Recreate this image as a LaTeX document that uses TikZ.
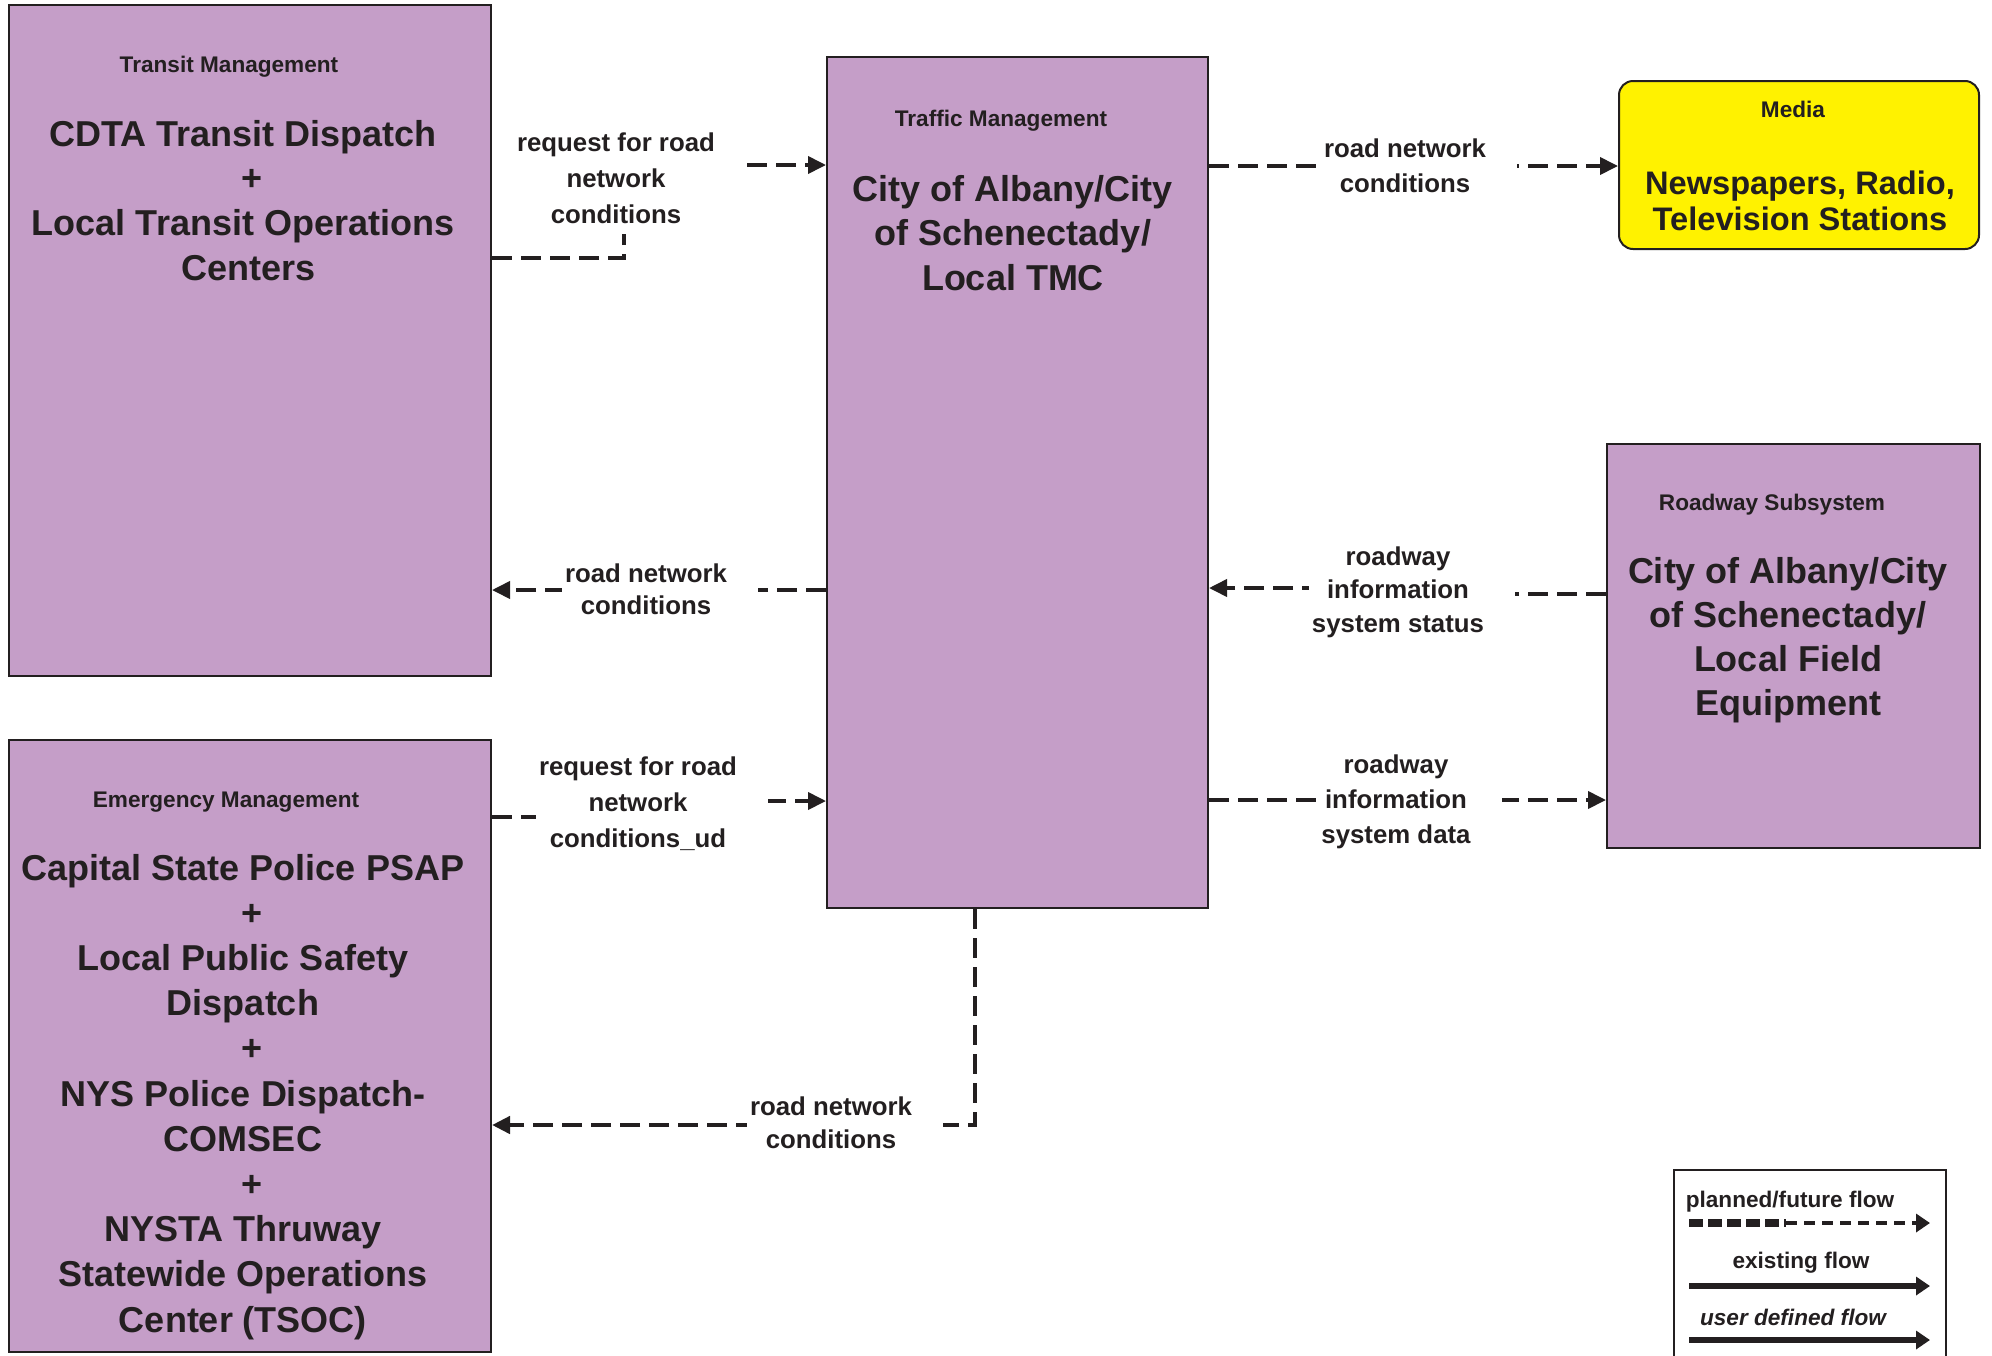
\documentclass[tikz,border=0pt]{standalone}
\usepackage{fontspec}
\setmainfont{Liberation Sans}
\usetikzlibrary{arrows.meta}
\definecolor{boxpurple}{RGB}{197,158,200}
\definecolor{medyellow}{RGB}{255,242,0}
\definecolor{ink}{RGB}{35,31,32}
\newcommand\mylines[1]{\begin{tabular}[t]{@{}c@{}}#1\end{tabular}}
\newcommand\myplus{\hspace{9pt}+}
\begin{document}
\begin{tikzpicture}[x=0.5pt,y=-0.5pt,
  box/.style={draw=ink,line width=1pt,fill=boxpurple,inner sep=0pt},
  ttl/.style={text=ink,font=\bfseries\fontsize{11.3}{13.5}\selectfont,inner sep=0pt,anchor=base},
  big/.style={text=ink,font=\bfseries\fontsize{18}{22.4}\selectfont,inner sep=0pt,anchor=base},
  lbl/.style={text=ink,font=\bfseries\fontsize{12.9}{17.5}\selectfont,inner xsep=1.5pt,inner ysep=0pt,anchor=base,fill=white,preaction={fill=white,transform canvas={xshift=14pt}}},
  flow/.style={draw=ink,line width=1.9pt,dash pattern=on 10pt off 4.5pt,-{Triangle[length=9pt,width=8.5pt]}},
  tip/.style={-{Triangle[length=7pt,width=9pt]}},
]
\useasboundingbox (0,0) rectangle (1992,1355);

% boxes
\node[box,minimum width=241pt,minimum height=335.5pt] (transit) at (250,340.5) {};
\node[box,minimum width=241pt,minimum height=306pt] (emerg) at (250,1046) {};
\node[box,minimum width=190.5pt,minimum height=425.5pt] (tm) at (1017.5,482.5) {};
\node[box,fill=medyellow,rounded corners=7pt,minimum width=180pt,minimum height=84pt] (media) at (1799,165) {};
\node[box,minimum width=186.5pt,minimum height=202pt] (road) at (1793.5,646) {};

% box texts
\node[ttl] (transitT) at (229,72) {Transit Management};
\node[big] (transitM) at (243,146) {\mylines{CDTA Transit Dispatch\\\myplus\\Local Transit Operations\\\hspace{6pt}Centers}};
\node[ttl] (emergT) at (226,807) {Emergency Management};
\node[big,font=\bfseries\fontsize{18}{22.6}\selectfont] (emergM) at (243,880) {\mylines{Capital State Police PSAP\\\myplus\\Local Public Safety\\Dispatch\\\myplus\\NYS Police Dispatch-\\COMSEC\\\myplus\\NYSTA Thruway\\Statewide Operations\\Center (TSOC)}};
\node[ttl] (tmT) at (1001,126) {Traffic Management};
\node[big] (tmM) at (1013,201) {\mylines{City of Albany/City\\of Schenectady/\\Local TMC}};
\node[ttl] (mediaT) at (1793,117) {Media};
\node[big,font=\bfseries\fontsize{16.3}{18}\selectfont] (mediaM) at (1800,194) {\mylines{Newspapers, Radio,\\Television Stations}};
\node[ttl] (roadT) at (1772,510) {Roadway Subsystem};
\node[big,font=\bfseries\fontsize{18}{22}\selectfont] (roadM) at (1788,583) {\mylines{City of Albany/City\\of Schenectady/\\Local Field\\Equipment}};

% connectors
\coordinate (b1a) at (624,258);
\coordinate (b1b) at (624,165);
\draw[flow] (transit.east |- b1a) -- (b1a) -- (b1b) -- (tm.west |- b1b);

\coordinate (y2) at (700,590);
\draw[flow] (tm.west |- y2) -- (transit.east |- y2);

\coordinate (b3a) at (640,817);
\coordinate (b3b) at (640,801);
\draw[flow] (emerg.east |- b3a) -- (b3a) -- (b3b) -- (tm.west |- b3b);

\coordinate (b4) at (975,1125);
\draw[flow,line width=2.2pt] (tm.south -| b4) -- (b4) -- (emerg.east |- b4);

\coordinate (y5) at (1400,166);
\draw[flow] (tm.east |- y5) -- (media.west |- y5);

\coordinate (b6a) at (1420,594);
\coordinate (b6b) at (1420,588);
\draw[flow] (road.west |- b6a) -- (b6a) -- (b6b) -- (tm.east |- b6b);

\coordinate (y7) at (1400,800);
\draw[flow] (tm.east |- y7) -- (road.west |- y7);

% connector labels
\node[lbl,font=\bfseries\fontsize{12.9}{18}\selectfont] (l1) at (616,151) {\mylines{request for road\\network\\conditions}};
\node[lbl,font=\bfseries\fontsize{12.9}{16.2}\selectfont] (l2) at (646,582) {\mylines{road network\\conditions}};
\node[lbl,font=\bfseries\fontsize{12.9}{18}\selectfont] (l3) at (638,775) {\mylines{request for road\\network\\conditions\_ud}};
\node[lbl,font=\bfseries\fontsize{12.9}{16.5}\selectfont] (l4) at (831,1115) {\mylines{road network\\conditions}};
\node[lbl] (l5) at (1405,157) {\mylines{road network\\conditions}};
\node[lbl,font=\bfseries\fontsize{12.9}{16.8}\selectfont] (l6) at (1398,565) {\mylines{roadway\\information\\system status}};
\node[lbl] (l7) at (1396,773) {\mylines{roadway\\information\\system data}};

% legend
\node[draw=ink,line width=1.2pt,minimum width=136pt,minimum height=100pt,anchor=north west] (legend) at (1673,1169) {};
\node[ttl] (lgP) at (1790,1207) {planned/future flow};
\node[ttl] (lgE) at (1801,1268) {existing flow};
\node[ttl,font=\bfseries\itshape\fontsize{11.3}{13.5}\selectfont] (lgU) at (1793,1325) {user defined flow};
\coordinate (p0) at (1689,1223);
\coordinate (p1) at (1786,1223);
\coordinate (p2) at (1930,1223);
\draw[ink,line width=4pt,dash pattern=on 7pt off 2.5pt] (p0) -- (p1);
\draw[ink,line width=2pt,dash pattern=on 5.5pt off 3.5pt,tip] (p1) -- (p2);
\coordinate (e0) at (1689,1286);
\coordinate (e1) at (1930,1286);
\draw[ink,line width=3pt,tip] (e0) -- (e1);
\coordinate (u0) at (1689,1340);
\coordinate (u1) at (1930,1340);
\draw[ink,line width=3pt,tip] (u0) -- (u1);
\end{tikzpicture}
\end{document}
